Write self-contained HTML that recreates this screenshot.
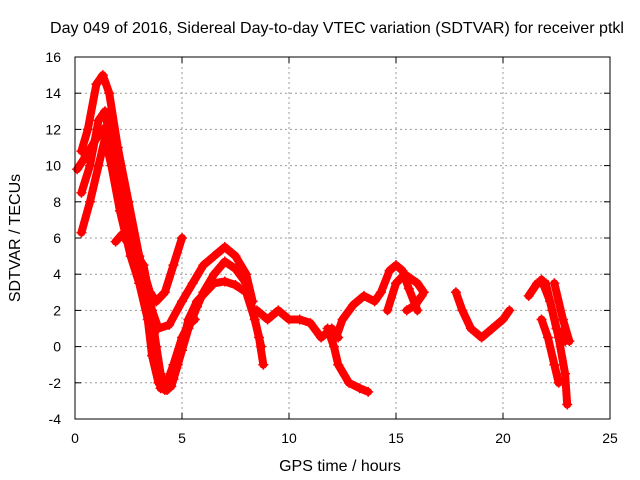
<!DOCTYPE html>
<html><head><meta charset="utf-8"><style>
body{margin:0;background:#fff}
svg{display:block;font-family:"Liberation Sans",sans-serif}
</style></head><body>
<svg id="c" width="640" height="480">
<text x="337" y="33" text-anchor="middle" font-size="16" textLength="574" lengthAdjust="spacingAndGlyphs">Day 049 of 2016, Sidereal Day-to-day VTEC variation (SDTVAR) for receiver ptkl</text>
<text x="340" y="471" text-anchor="middle" font-size="16">GPS time / hours</text>
<text transform="translate(20,238) rotate(-90)" text-anchor="middle" font-size="16">SDTVAR / TECUs</text>
<g id="grid"></g><g id="marks"></g>
<rect x="75" y="57" width="535" height="362" fill="none" stroke="#000"/>
</svg>
<script>
const xTicks=[0,5,10,15,20,25];
const yTicks=[-4,-2,0,2,4,6,8,10,12,14,16];
const sA=[[0.3,10.8],[0.6,12],[1.0,14.5],[1.3,15],[1.6,14],[2.0,11],[2.5,8],[3.0,5],[3.5,2.5],[3.8,0],[4.0,-1.5],[4.2,-2.4],[4.5,-2.2],[4.8,-1],[5.0,0],[5.3,1.5],[5.7,2.5],[6.1,3],[6.5,3.5],[7.0,3.6],[7.5,3.4],[8,3],[8.4,1.5],[8.7,0]];
const sB=[[0.3,8.5],[0.7,10],[1.1,12.5],[1.4,13],[1.7,11],[2.1,8.5],[2.6,6],[3.0,4],[3.4,2],[3.7,-0.5],[4.0,-2.3],[4.3,-2.4],[4.6,-1.8],[5.0,-0.2],[5.3,1],[5.7,2.2],[6.0,3],[6.5,4],[7,4.7],[7.5,4.3],[8,3.5],[8.3,2],[8.6,0.5],[8.8,-1]];
const sC=[[0.3,6.3],[0.7,8],[1.1,10],[1.4,11.5],[1.7,10],[2.1,7.5],[2.6,5],[3,3.5],[3.4,1.5],[3.6,-0.5],[3.9,-2],[4.2,-2.3],[4.6,-1],[5,0.5],[5.3,1.2],[5.6,1.5]];
const sD=[[0.1,9.8],[0.5,10.5],[1.0,11.5],[1.3,12],[1.6,11],[2,9],[2.5,7],[3,5],[3.5,3],[3.8,2.5],[4.2,3],[4.6,4.5],[5.0,6]];
const sE=[[1.9,5.8],[2.2,6.2],[2.6,5.5],[3.2,4.5],[3.6,2],[3.9,1],[4.4,1.2],[5,2.5],[5.5,3.5],[6,4.5],[6.5,5],[7,5.5],[7.5,5],[8,4],[8.3,2.5]];
const sF=[[8.5,2],[9,1.5],[9.5,2],[10,1.5],[10.5,1.5],[11,1.3],[11.5,0.5],[12,1],[12.3,0.5]];
const sG=[[11.8,1],[12.1,0],[12.3,-1],[12.8,-2],[13.3,-2.3],[13.7,-2.5]];
const sH=[[12.2,0.5],[12.5,1.5],[13,2.3],[13.5,2.8],[14,2.5],[14.3,3],[14.7,4.2],[15,4.5],[15.3,4.2],[15.6,3.2],[16,2]];
const sI=[[14.6,2],[15,3.5],[15.4,4],[16,3.5],[16.3,3]];
const sJ=[[15.5,2],[15.9,2.3],[16.2,2.8]];
const sK=[[17.8,3],[18.1,2],[18.5,1],[19,0.5],[19.5,1],[20,1.5],[20.3,2]];
const sL=[[21.2,2.8],[21.6,3.5],[22,3.5],[22.3,2],[22.6,0.5],[22.9,-1.5],[23,-3.2]];
const sM=[[21.8,3.7],[22.2,2.5],[22.5,1],[22.9,0.3]];
const sN=[[22.4,3.5],[22.8,1.5],[23.1,0.3]];
const sO=[[21.8,1.5],[22.1,0.5],[22.4,-1],[22.6,-2]];
const series=[sA,sB,sC,sD,sE,sF,sG,sH,sI,sJ,sK,sL,sM,sN,sO];
const X0=75,X1=610,Y0=419,Y1=57;
const sx=v=>X0+(v-0)/(25-0)*(X1-X0);
const sy=v=>Y0-(v+4)/(16+4)*(Y0-Y1);
const NS="http://www.w3.org/2000/svg";
const g=document.getElementById('grid'),m=document.getElementById('marks');
function mk(t,a,p){const e=document.createElementNS(NS,t);for(const k in a)e.setAttribute(k,a[k]);p.appendChild(e);return e;}
xTicks.forEach(t=>{const x=sx(t);
 if(t>0&&t<25){const l=mk('line',{x1:x,x2:x,y1:Y1,y2:Y0,stroke:'#999','stroke-dasharray':'2,3'},g);
 
 }
 mk('line',{x1:x,x2:x,y1:Y0,y2:Y0-6,stroke:'#000'},g);mk('line',{x1:x,x2:x,y1:Y1,y2:Y1+6,stroke:'#000'},g);
 const tx=mk('text',{x:x,y:Y0+24,'text-anchor':'middle','font-size':14},g);tx.textContent=t;
 
 });
yTicks.forEach(t=>{const y=sy(t);
 if(t>-4&&t<16){const l=mk('line',{x1:X0,x2:X1,y1:y,y2:y,stroke:'#999','stroke-dasharray':'2,3'},g);
 
 }
 mk('line',{x1:X0,x2:X0+6,y1:y,y2:y,stroke:'#000'},g);mk('line',{x1:X1,x2:X1-6,y1:y,y2:y,stroke:'#000'},g);
 const tx=mk('text',{x:X0-14,y:y+5,'text-anchor':'end','font-size':14},g);tx.textContent=t;
 
 });
series.forEach((s,i)=>{
 const pl=mk('polyline',{points:s.map(p=>sx(p[0])+','+sy(p[1])).join(' '),fill:'none',stroke:'#f00','stroke-width':8,'stroke-linejoin':'round','stroke-linecap':'round'},m);
 
 
 s.forEach(p=>{const x=sx(p[0]),y=sy(p[1]);
  const pt=mk('path',{d:`M${x-5},${y}H${x+5}M${x},${y-5}V${y+5}`,stroke:'#f00','stroke-width':1.5},m);
  
  });
});
</script>
</body></html>
